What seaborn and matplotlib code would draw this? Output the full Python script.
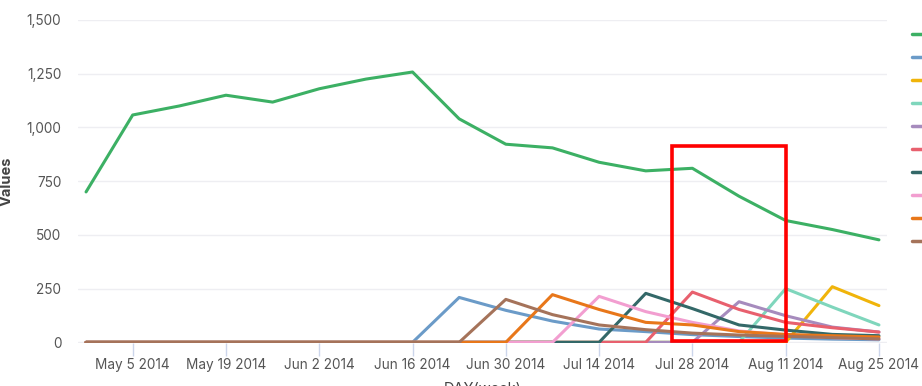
import matplotlib
matplotlib.use("Agg")
import matplotlib.pyplot as plt
import matplotlib.dates as mdates
from matplotlib.patches import Rectangle
import seaborn as sns
import pandas as pd
import numpy as np

weeks = pd.date_range("2014-04-28", periods=18, freq="7D")

series_names = ["2014-04-28", "2014-06-23", "2014-08-18", "2014-08-11", "2014-08-04",
                "2014-07-28", "2014-07-21", "2014-07-14", "2014-07-07", "2014-06-30"]
colors = ["#3cb064", "#6b9bc8", "#f0b40a", "#7fd6bc", "#a68bbd",
          "#e8606e", "#336868", "#f29ed0", "#e8771a", "#a5735a"]

green  = [700, 1058, 1100, 1150, 1118, 1180, 1225, 1258, 1040, 922, 905, 838, 798, 810, 680, 567, 525, 477]
blue   = [0, 0, 0, 0, 0, 0, 0, 0, 209, 149, 99, 62, 50, 36, 27, 20, 15, 12]
yellow = [0, 0, 0, 0, 0, 0, 0, 0, 0, 0, 0, 0, 0, 0, 0, 0, 259, 171]
mint   = [0, 0, 0, 0, 0, 0, 0, 0, 0, 0, 0, 0, 0, 0, 0, 250, 164, 81]
purple = [0, 0, 0, 0, 0, 0, 0, 0, 0, 0, 0, 0, 0, 0, 189, 124, 71, 48]
red    = [0, 0, 0, 0, 0, 0, 0, 0, 0, 0, 0, 0, 0, 234, 153, 93, 68, 48]
teal   = [0, 0, 0, 0, 0, 0, 0, 0, 0, 0, 0, 0, 228, 157, 81, 57, 37, 31]
pink   = [0, 0, 0, 0, 0, 0, 0, 0, 0, 0, 0, 214, 143, 93, 53, 34, 22, 16]
orange = [0, 0, 0, 0, 0, 0, 0, 0, 0, 0, 222, 153, 93, 81, 50, 37, 31, 25]
brown  = [0, 0, 0, 0, 0, 0, 0, 0, 0, 200, 129, 81, 59, 43, 34, 28, 22, 16]

all_values = [green, blue, yellow, mint, purple, red, teal, pink, orange, brown]

tick_dates = pd.date_range("2014-05-05", periods=9, freq="14D")

frames = []
for name, vals in zip(series_names, all_values):
    frames.append(pd.DataFrame({"DAY(week)": weeks, "Values": vals, "series": name}))
df = pd.concat(frames, ignore_index=True)

sns.set_theme(style="white")
plt.rcParams["font.family"] = ["Inter", "DejaVu Sans"]

fig = plt.figure(figsize=(9.22, 3.86), dpi=100)
ax = fig.add_axes([78/922, 43/386, (887-78)/922, (343-20)/386])

sns.lineplot(data=df, x="DAY(week)", y="Values", hue="series", hue_order=series_names,
             palette=colors, linewidth=2.2, ax=ax, legend=True)

# annotation box
x0 = mdates.date2num(pd.Timestamp("2014-07-24 22:00"))
x1 = mdates.date2num(pd.Timestamp("2014-08-11"))
ax.add_patch(Rectangle((x0, 5), x1 - x0, 910, fill=False, edgecolor="#ff0000",
                       linewidth=2.6, zorder=10))

pad = pd.Timedelta(hours=29)
ax.set_xlim(weeks[0] - pad, weeks[-1] + pad)
ax.set_ylim(-3, 1500)
ax.set_yticks([0, 250, 500, 750, 1000, 1250, 1500])
ax.set_yticklabels(["0", "250", "500", "750", "1,000", "1,250", "1,500"])
ax.set_xticks(tick_dates)
ax.set_xticklabels([d.strftime("%b ") + str(d.day) + " 2014" for d in tick_dates])

ax.grid(axis="y", color="#eeeef2", linewidth=1)
ax.grid(axis="x", visible=False)
for s in ax.spines.values():
    s.set_visible(False)
ax.tick_params(axis="x", length=9, width=1, color="#ccd6eb", labelsize=9.8,
               labelcolor="#555555", pad=2, bottom=True)
ax.tick_params(axis="y", length=0, labelsize=9.8, labelcolor="#555555", pad=12)

ax.set_ylabel("Values", fontsize=10.5, fontweight="bold", color="#444444", labelpad=9)
ax.set_xlabel("DAY(week)", fontsize=10.5, color="#444444", labelpad=7)

leg = ax.legend(loc="upper left", bbox_to_anchor=(912/922, (386-28)/386),
                bbox_transform=fig.transFigure, frameon=False, fontsize=10,
                handlelength=1.6, borderpad=0, borderaxespad=0, labelspacing=0.65,
                handletextpad=0.6)
for line in leg.get_lines():
    line.set_linewidth(2.5)

fig.savefig("out.png", dpi=100)
